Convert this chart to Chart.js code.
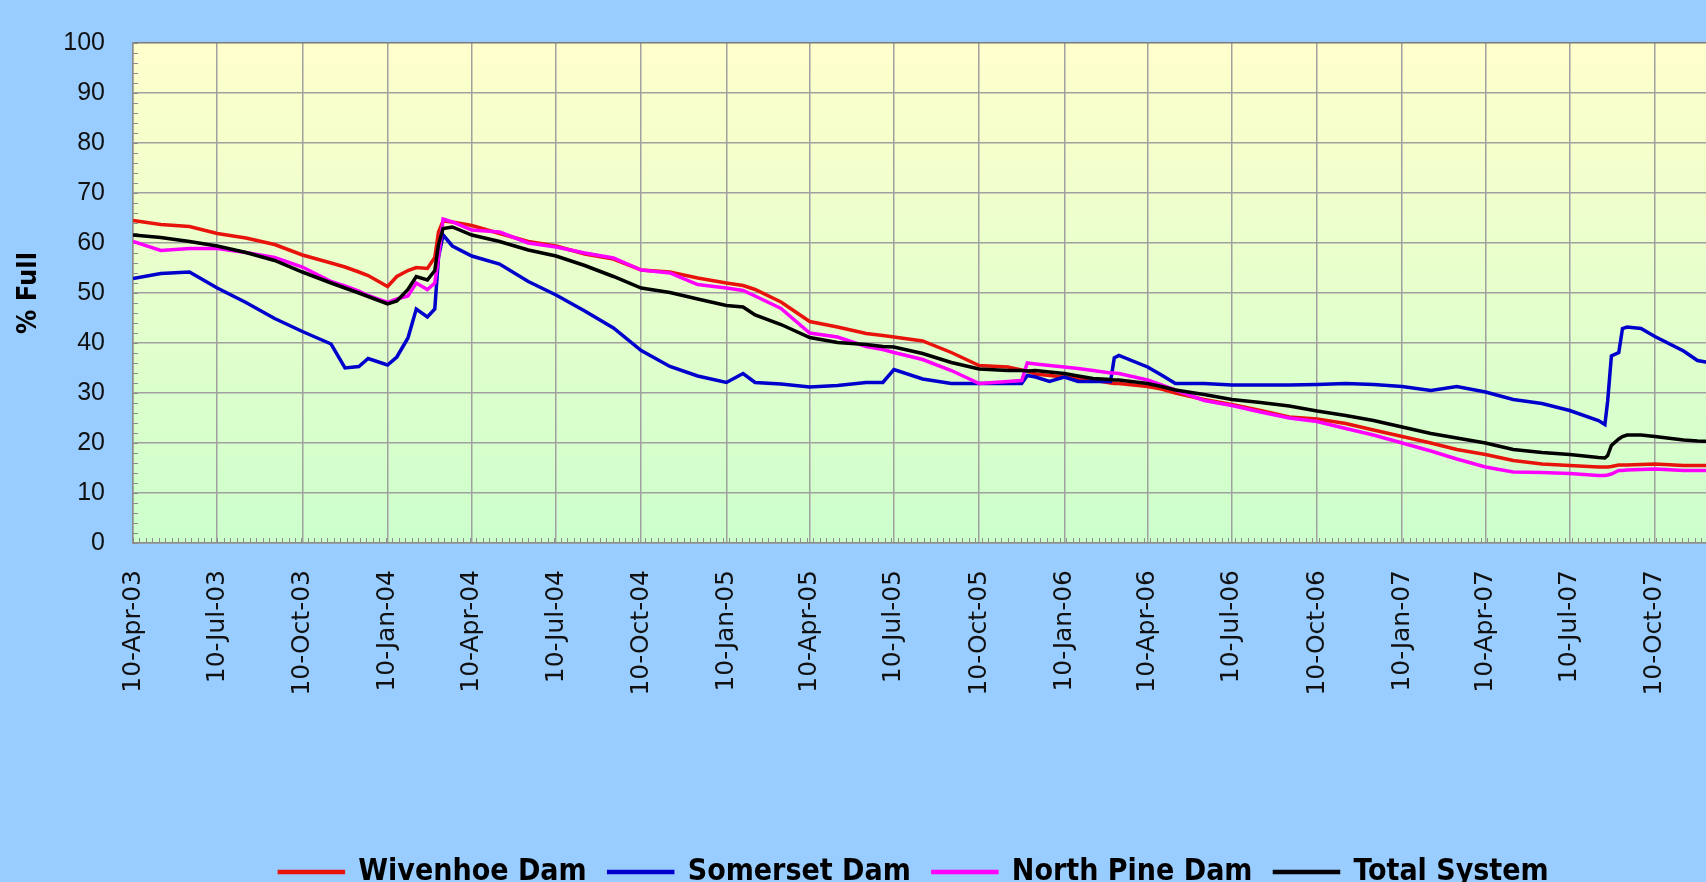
<!DOCTYPE html>
<html><head><meta charset="utf-8">
<script src="https://cdn.jsdelivr.net/npm/chart.js@4.4.1/dist/chart.umd.min.js"></script>
<style>
html,body{margin:0;padding:0;background:#99CCFF;overflow:hidden;width:1706px;height:882px;}
#wrap{position:absolute;left:0;top:0;width:1828px;height:882px;}
</style></head><body>
<div id="wrap"><canvas id="c"></canvas></div>
<script>
// ---- data ----
const startDate = '2003-04-10';
const axisEndDate = '2008-04-14';
const seriesNames = ['Wivenhoe Dam', 'Somerset Dam', 'North Pine Dam', 'Total System'];
const dates = [
 '2003-04-10','2003-05-10','2003-06-10','2003-07-10','2003-08-10','2003-09-10','2003-10-10','2003-11-10','2003-11-25','2003-12-10',
 '2003-12-20','2004-01-10','2004-01-20','2004-02-01','2004-02-10','2004-02-22','2004-03-01','2004-03-05','2004-03-10','2004-03-20',
 '2004-04-10','2004-05-10','2004-06-10','2004-07-10','2004-08-10','2004-09-10','2004-10-10','2004-11-10','2004-12-10','2005-01-10',
 '2005-01-28','2005-02-10','2005-03-10','2005-04-10','2005-05-10','2005-06-10','2005-06-28','2005-07-10','2005-08-10','2005-09-10',
 '2005-10-10','2005-11-10','2005-11-25','2005-12-01','2005-12-10','2005-12-25','2006-01-10','2006-01-25','2006-02-10','2006-03-01',
 '2006-03-05','2006-03-10','2006-04-10','2006-04-25','2006-05-10','2006-06-10','2006-07-10','2006-08-10','2006-09-10','2006-10-10',
 '2006-11-10','2006-12-10','2007-01-10','2007-02-10','2007-03-10','2007-04-10','2007-05-10','2007-06-10','2007-07-10','2007-08-10',
 '2007-08-17','2007-08-20','2007-08-24','2007-09-01','2007-09-05','2007-09-10','2007-09-25','2007-10-10','2007-11-10','2007-11-25',
 '2007-12-10'
];
const wivenhoe = [
 64.5,63.7,63.3,61.9,61.0,59.7,57.6,56.0,55.2,54.2,
 53.5,51.3,53.3,54.5,55.1,54.9,57.1,62.2,64.4,64.2,
 63.5,61.9,60.3,59.4,57.8,56.8,54.6,54.2,53.0,52.0,
 51.5,50.7,48.2,44.3,43.2,41.9,41.5,41.2,40.4,38.1,
 35.5,35.2,34.6,34.4,33.8,33.5,33.2,32.9,32.6,32.0,
 31.9,31.9,31.3,30.8,30.0,28.7,27.7,26.5,25.2,24.8,
 23.9,22.6,21.3,20.0,18.7,17.7,16.5,15.8,15.5,15.2,
 15.2,15.2,15.3,15.6,15.6,15.6,15.7,15.8,15.5,15.5,
 15.5
];
const somerset = [
 52.9,53.9,54.2,51.0,48.1,44.9,42.3,39.8,35.0,35.3,
 36.9,35.6,37.2,41.0,46.8,45.2,46.8,57.1,61.6,59.4,
 57.4,55.8,52.3,49.6,46.4,43.0,38.5,35.3,33.4,32.1,
 33.9,32.1,31.8,31.2,31.5,32.1,32.1,34.7,32.8,31.9,
 31.9,31.9,31.9,33.5,33.2,32.3,33.2,32.3,32.3,32.3,
 37.0,37.5,35.2,33.6,31.9,31.9,31.6,31.6,31.6,31.7,
 31.9,31.7,31.3,30.5,31.3,30.2,28.7,27.9,26.5,24.5,
 23.7,28.4,37.4,38.1,42.9,43.2,42.9,41.3,38.4,36.5,
 36.0
];
const northPine = [
 60.3,58.5,58.9,58.9,58.1,57.1,55.2,52.3,51.4,50.4,
 49.5,48.1,48.8,49.4,52.0,50.7,52.0,57.1,64.8,64.2,
 62.6,62.2,60.0,59.2,58.0,57.0,54.6,54.0,51.7,51.0,
 50.5,49.4,46.9,42.0,41.2,39.3,38.7,38.1,36.7,34.5,
 31.9,32.3,32.5,36.0,35.8,35.5,35.2,34.9,34.5,34.0,
 34.0,33.9,32.6,31.6,30.6,28.5,27.5,26.2,25.0,24.3,
 22.9,21.6,20.0,18.4,16.8,15.2,14.2,14.1,13.9,13.5,
 13.5,13.6,13.8,14.5,14.5,14.6,14.7,14.8,14.5,14.5,
 14.5
];
const totalSystem = [
 61.6,61.1,60.3,59.4,58.1,56.5,54.2,52.0,51.0,50.0,
 49.3,47.8,48.4,50.7,53.3,52.6,54.5,59.7,62.9,63.2,
 61.6,60.3,58.6,57.4,55.5,53.3,51.0,50.1,48.8,47.5,
 47.2,45.6,43.7,41.1,40.1,39.7,39.3,39.2,37.9,36.1,
 34.8,34.5,34.5,34.4,34.5,34.2,33.9,33.4,32.9,32.7,
 32.6,32.6,31.9,31.3,30.6,29.7,28.7,28.1,27.4,26.4,
 25.5,24.5,23.2,21.9,21.0,20.0,18.7,18.1,17.7,17.1,
 17.0,17.5,19.5,20.8,21.3,21.6,21.6,21.3,20.6,20.4,
 20.3
];
const tickDates = ['2003-04-10','2003-07-10','2003-10-10','2004-01-10','2004-04-10','2004-07-10','2004-10-10',
 '2005-01-10','2005-04-10','2005-07-10','2005-10-10','2006-01-10','2006-04-10','2006-07-10','2006-10-10',
 '2007-01-10','2007-04-10','2007-07-10','2007-10-10'];
const tickLabels = ['10-Apr-03','10-Jul-03','10-Oct-03','10-Jan-04','10-Apr-04','10-Jul-04','10-Oct-04',
 '10-Jan-05','10-Apr-05','10-Jul-05','10-Oct-05','10-Jan-06','10-Apr-06','10-Jul-06','10-Oct-06',
 '10-Jan-07','10-Apr-07','10-Jul-07','10-Oct-07'];

// ---- helpers ----
const DAY_MS = 86400000;
function utc(s){ const p = s.split('-').map(Number); return Date.UTC(p[0], p[1]-1, p[2]); }
function dayOf(s){ return (utc(s) - utc(startDate)) / DAY_MS; }
const xs = dates.map(dayOf);
function pts(vals){ return vals.map((v,i) => ({x: xs[i], y: v})); }

const colors = ['#E8140C', '#0000CC', '#FF00FF', '#000000'];
const seriesVals = [wivenhoe, somerset, northPine, totalSystem];

const decor = {
  id: 'decor',
  beforeDraw(chart){
    const {ctx, chartArea: a} = chart;
    const g = ctx.createLinearGradient(0, a.top, 0, a.bottom);
    g.addColorStop(0, '#FFFFCC'); g.addColorStop(1, '#CCFFCC');
    ctx.save(); ctx.fillStyle = g;
    ctx.fillRect(a.left, a.top, a.right - a.left, a.bottom - a.top);
    ctx.restore();
  },
  beforeDatasetsDraw(chart){
    const {ctx, chartArea: a, scales} = chart;
    const x = scales.x, y = scales.y;
    ctx.save(); ctx.strokeStyle = '#8C8C8C'; ctx.lineWidth = 1;
    ctx.beginPath();
    for (let v = y.min; v <= y.max; v += 2){
      const py = Math.round(y.getPixelForValue(v)) + 0.5;
      ctx.moveTo(a.left, py); ctx.lineTo(a.left + 5, py);
    }
    for (let d = x.min; d <= x.max; d += 7){
      const px = Math.round(x.getPixelForValue(d)) + 0.5;
      ctx.moveTo(px, a.bottom); ctx.lineTo(px, a.bottom - 5);
    }
    ctx.stroke(); ctx.restore();
  }
};

const boldCond = '"DejaVu Sans Condensed", "Liberation Sans Narrow", "DejaVu Sans", sans-serif';

new Chart(document.getElementById('c'), {
  type: 'line',
  data: {
    datasets: seriesVals.map((vals, i) => ({
      label: seriesNames[i],
      data: pts(vals),
      borderColor: colors[i],
      backgroundColor: colors[i],
      borderWidth: 3.5,
      pointRadius: 0,
      tension: 0,
      fill: false,
      order: 4 - i
    }))
  },
  options: {
    responsive: true,
    maintainAspectRatio: false,
    animation: false,
    devicePixelRatio: 1,
    layout: { padding: { top: 26, left: 0, right: 0, bottom: 0 } },
    plugins: {
      tooltip: { enabled: false },
      legend: {
        position: 'bottom',
        maxHeight: 47,
        labels: {
          sort: (a, b) => a.datasetIndex - b.datasetIndex,
          boxWidth: 64,
          boxHeight: 1,
          padding: 22,
          color: '#000',
          font: { family: boldCond, size: 30, weight: 'bold' }
        }
      }
    },
    scales: {
      x: {
        type: 'linear',
        min: 0,
        max: dayOf(axisEndDate),
        afterBuildTicks: (axis) => { axis.ticks = tickDates.map(d => ({ value: dayOf(d) })); },
        afterFit: (axis) => { axis.height = 292; },
        ticks: {
          autoSkip: false,
          minRotation: 90,
          maxRotation: 90,
          padding: 27,
          color: '#111',
          font: { family: '"DejaVu Sans", sans-serif', size: 25 },
          callback: (v, i) => tickLabels[i]
        },
        grid: { color: '#A0A0A0', lineWidth: 1.5, drawTicks: false },
        border: { color: '#8C8C8C', width: 1.5 }
      },
      y: {
        min: 0,
        max: 100,
        afterFit: (axis) => { axis.width = 133; },
        ticks: {
          stepSize: 10,
          padding: 28,
          color: '#111',
          font: { family: '"Liberation Sans", sans-serif', size: 25 }
        },
        grid: {
          color: (c) => (c.tick && c.tick.value === 100) ? '#7A7A7A' : '#A0A0A0',
          lineWidth: 1.5,
          drawTicks: false
        },
        border: { color: '#8C8C8C', width: 1.5 },
        title: {
          display: true,
          text: '% Full',
          color: '#000',
          padding: { top: 13, bottom: 0 },
          font: { family: boldCond, size: 27, weight: 'bold' }
        }
      }
    }
  },
  plugins: [decor]
});
</script>
</body></html>
